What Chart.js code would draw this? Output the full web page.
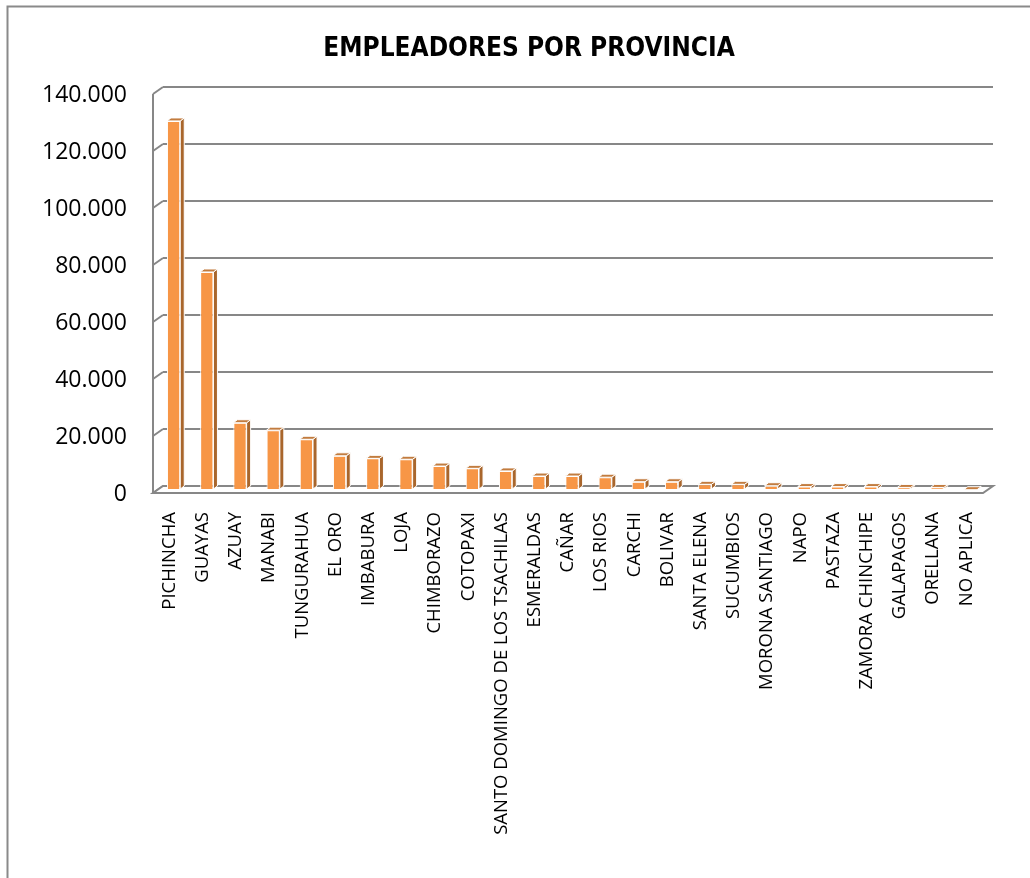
<!DOCTYPE html>
<html>
<head>
<meta charset="utf-8">
<title>Empleadores por provincia</title>
<script src="https://cdn.jsdelivr.net/npm/chart.js@4/dist/chart.umd.min.js"></script>
<style>
  html, body { margin: 0; padding: 0; background: #ffffff; }
  canvas { display: block; }
</style>
</head>
<body>
<canvas id="chart" width="1030" height="878"></canvas>
<script>
// Provinces, in the order they are plotted
const provincias = [
  'PICHINCHA', 'GUAYAS', 'AZUAY', 'MANABI', 'TUNGURAHUA', 'EL ORO', 'IMBABURA',
  'LOJA', 'CHIMBORAZO', 'COTOPAXI', 'SANTO DOMINGO DE LOS TSACHILAS', 'ESMERALDAS',
  'CAÑAR', 'LOS RIOS', 'CARCHI', 'BOLIVAR', 'SANTA ELENA', 'SUCUMBIOS',
  'MORONA SANTIAGO', 'NAPO', 'PASTAZA', 'ZAMORA CHINCHIPE', 'GALAPAGOS',
  'ORELLANA', 'NO APLICA'
];

// Number of employers per province
const empleadores = [
  129500, 76500, 23600, 21000, 17800, 12000, 11100,
  10800, 8400, 7600, 6700, 4900,
  4900, 4500, 2900, 2900, 2000, 2000,
  1500, 1200, 1200, 1200, 900,
  900, 100
];

// Value-axis labels (dot as thousands separator)
const etiquetasY = ['0', '20.000', '40.000', '60.000', '80.000', '100.000', '120.000', '140.000'];

const TITULO = 'EMPLEADORES POR PROVINCIA';

// Depth of the side wall / floor, position of the bar plane and bar thickness
const PARED_DX = 10, PARED_DY = 7;
const BARRA_DX = -6, BARRA_DY = 4;
const PROF_DX = 4, PROF_DY = 3;

const GRIS = '#878787';

const efecto3d = {
  id: 'efecto3d',
  beforeDraw(chart) {
    const ctx = chart.ctx;
    ctx.save();
    ctx.fillStyle = '#ffffff';
    ctx.fillRect(0, 0, chart.width, chart.height);
    // outer frame
    ctx.strokeStyle = '#8a8a8a';
    ctx.lineWidth = 2;
    ctx.beginPath();
    ctx.moveTo(7.5, chart.height);
    ctx.lineTo(7.5, 6.5);
    ctx.lineTo(chart.width, 6.5);
    ctx.stroke();
    // title
    ctx.fillStyle = '#000000';
    ctx.font = 'bold 26px "Liberation Sans Narrow", "DejaVu Sans Condensed", "Open Sans", sans-serif';
    ctx.textAlign = 'center';
    ctx.textBaseline = 'middle';
    ctx.fillText(TITULO, 529, 49);
    ctx.restore();
  },
  beforeDatasetsDraw(chart) {
    const ctx = chart.ctx;
    const area = chart.chartArea;
    const y = chart.scales.y;
    const xf = area.left - PARED_DX;
    ctx.save();
    ctx.strokeStyle = GRIS;
    ctx.lineWidth = 2;
    ctx.lineJoin = 'miter';
    // side wall: front edge and slanted gridline ends
    ctx.beginPath();
    ctx.moveTo(xf, y.getPixelForValue(y.max) + PARED_DY);
    ctx.lineTo(xf, y.getPixelForValue(0) + PARED_DY);
    y.ticks.forEach(t => {
      const py = y.getPixelForValue(t.value);
      ctx.moveTo(xf, py + PARED_DY);
      ctx.lineTo(area.left, py);
    });
    ctx.stroke();
    // floor
    const yb = y.getPixelForValue(0);
    ctx.beginPath();
    ctx.moveTo(xf, yb + PARED_DY);
    ctx.lineTo(area.right - PARED_DX, yb + PARED_DY);
    ctx.lineTo(area.right, yb);
    ctx.lineTo(area.left, yb);
    ctx.closePath();
    ctx.fillStyle = '#ffffff';
    ctx.fill();
    ctx.stroke();
    ctx.restore();
    // bars sit in a plane between the floor front edge and the back wall
    ctx.save();
    ctx.translate(BARRA_DX, BARRA_DY);
  },
  afterDatasetsDraw(chart) {
    const ctx = chart.ctx;
    const meta = chart.getDatasetMeta(0);
    meta.data.forEach(el => {
      const { x, y, base, width } = el.getProps(['x', 'y', 'base', 'width'], true);
      const l = x - width / 2, r = x + width / 2;
      // side face
      ctx.beginPath();
      ctx.moveTo(r, y);
      ctx.lineTo(r + PROF_DX, y - PROF_DY);
      ctx.lineTo(r + PROF_DX, base - PROF_DY);
      ctx.lineTo(r, base);
      ctx.closePath();
      ctx.fillStyle = '#a9662c';
      ctx.fill();
      ctx.strokeStyle = '#ffffff';
      ctx.lineWidth = 1;
      ctx.stroke();
      // top face
      ctx.beginPath();
      ctx.moveTo(l, y);
      ctx.lineTo(l + PROF_DX, y - PROF_DY);
      ctx.lineTo(r + PROF_DX, y - PROF_DY);
      ctx.lineTo(r, y);
      ctx.closePath();
      ctx.fillStyle = '#c27c3f';
      ctx.fill();
      ctx.stroke();
    });
    ctx.restore();
  }
};

new Chart(document.getElementById('chart'), {
  type: 'bar',
  data: {
    labels: provincias,
    datasets: [{
      label: 'Empleadores',
      data: empleadores,
      backgroundColor: '#f79646',
      borderColor: '#ffffff',
      borderWidth: 1,
      barPercentage: 0.4,
      categoryPercentage: 1,
      clip: false
    }]
  },
  options: {
    responsive: false,
    animation: false,
    devicePixelRatio: 1,
    layout: { padding: { left: 0, right: 37, top: 87, bottom: 0 } },
    plugins: {
      legend: { display: false },
      tooltip: { enabled: false },
      title: { display: false }
    },
    scales: {
      x: {
        grid: { display: false, drawTicks: false },
        border: { display: false },
        ticks: {
          autoSkip: false,
          minRotation: 90,
          maxRotation: 90,
          padding: 26,
          labelOffset: -10,
          color: '#000000',
          font: { family: '"Open Sans", sans-serif', size: 18.5 }
        },
        afterFit(scale) { scale.height = 392; }
      },
      y: {
        min: 0,
        max: 140000,
        grid: { color: GRIS, lineWidth: 2, drawTicks: false },
        border: { display: false },
        ticks: {
          stepSize: 20000,
          padding: 36,
          labelOffset: 8,
          color: '#000000',
          font: { family: '"Open Sans", sans-serif', size: 23 },
          callback: (value, index) => etiquetasY[index]
        },
        afterFit(scale) { scale.width = 163; }
      }
    }
  },
  plugins: [efecto3d]
});
</script>
</body>
</html>
